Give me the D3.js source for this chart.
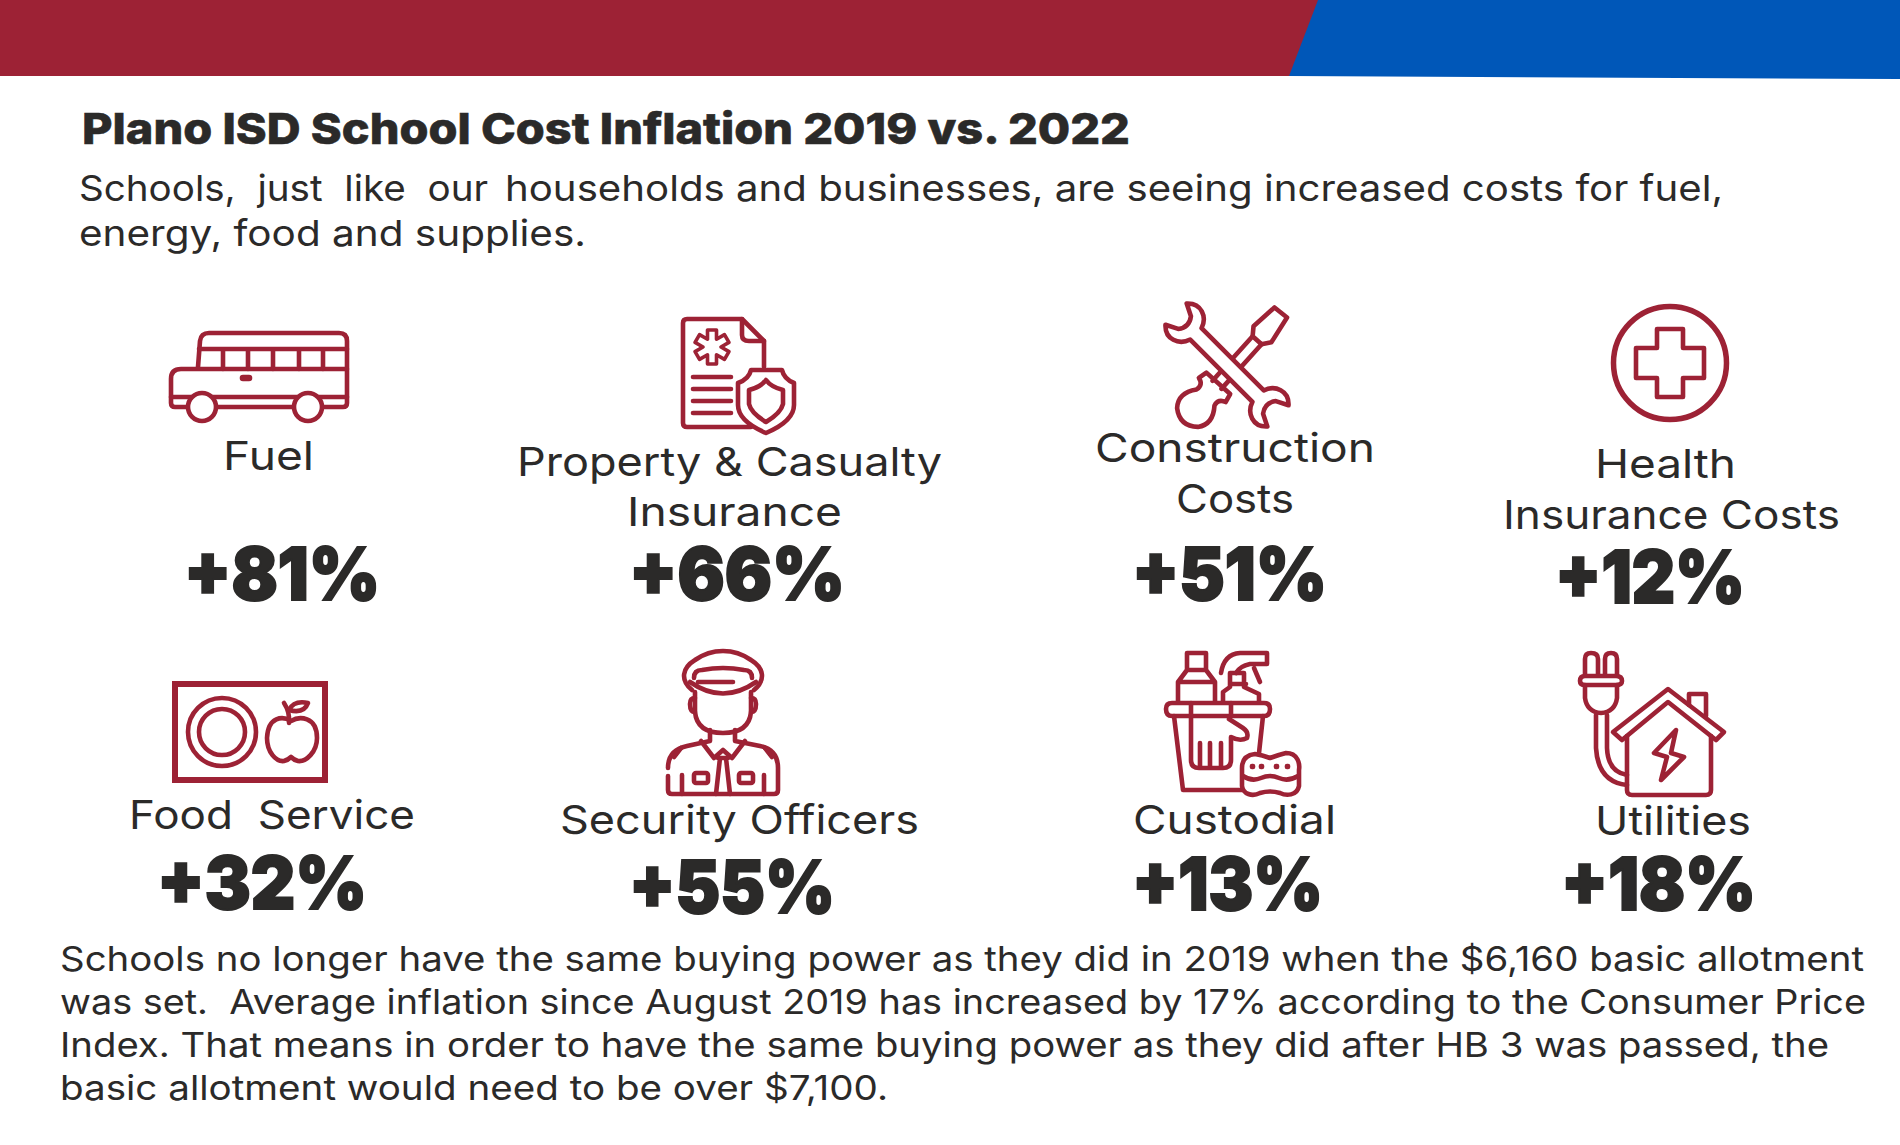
<!DOCTYPE html>
<html>
<head>
<meta charset="utf-8">
<script src="https://cdn.jsdelivr.net/npm/d3@7"></script>
<style>
  html, body { margin: 0; padding: 0; background: #fff; }
  svg { display: block; }
  text { font-family: Inter, "Noto Sans", sans-serif; fill: #2b2a29; white-space: pre; }
  .icon path, .icon circle, .icon ellipse, .icon rect { stroke: #9d2235; stroke-width: 4.6; stroke-linecap: round; stroke-linejoin: round; fill: none; }
  .icon .solid { fill: #fff; }
</style>
</head>
<body>
<svg id="chart" width="1900" height="1145"></svg>
<script>
// chart content
var categories = [
	['Fuel'],
	['Property & Casualty', 'Insurance'],
	['Construction', 'Costs'],
	['Health', 'Insurance Costs'],
	['Food  Service'],
	['Security Officers'],
	['Custodial'],
	['Utilities']
];
var values = [81, 66, 51, 12, 32, 55, 13, 18];
var title = 'Plano ISD School Cost Inflation 2019 vs. 2022';
var subtitle = [
	'Schools,  just  like  our',
	'households and businesses, are seeing increased costs for fuel,',
	'energy, food and supplies.'
];
var footnote = [
	'Schools no longer have the same buying power as they did in 2019 when the $6,160 basic allotment',
	'was set.  Average inflation since August 2019 has increased by 17% according to the Consumer Price',
	'Index. That means in order to have the same buying power as they did after HB 3 was passed, the',
	'basic allotment would need to be over $7,100.'
];

// layout, [left, right, baseline] per text line
var labelBoxes = [
	[[223, 314, 470]],
	[[517, 942, 476], [627, 842, 526]],
	[[1095, 1375, 462], [1176, 1294, 513]],
	[[1595, 1736, 478], [1503, 1840, 529]],
	[[129, 415, 829]],
	[[560, 919, 834]],
	[[1133, 1336, 834]],
	[[1595, 1751, 835]]
];
var valueBoxes = [
	[184, 380, 600], [629, 845, 600], [1132, 1327, 600], [1555, 1745, 603],
	[157, 367, 909], [629, 835, 913], [1132, 1323, 910], [1561, 1756, 910]
];
var subtitleBoxes = [[79, 488, 201], [505, 1723, 201], [79, 586, 246]];
var footnoteBoxes = [[60, 1864, 971], [60, 1866, 1014], [60, 1829, 1057], [60, 888, 1100]];

var svg = d3.select('#chart');

// Header band.
svg.append('rect').attr('width', 1900).attr('height', 76).style('fill', '#9d2235');
svg.append('path').attr('d', 'M1318,0 L1900,0 L1900,79 L1289,76 Z').style('fill', '#0057b8');

function fitText(sel, box) {
	sel.attr('x', (d, i) => box(d, i)[0])
	   .attr('y', (d, i) => box(d, i)[2])
	   .attr('textLength', (d, i) => box(d, i)[1] - box(d, i)[0])
	   .attr('lengthAdjust', 'spacingAndGlyphs');
}

svg.append('text').datum([82, 1130, 144])
	.style('font-size', '43px').style('font-weight', 800)
	.style('stroke', '#2b2a29').style('stroke-width', 0.6)
	.call(fitText, d => d)
	.text(title);

svg.selectAll('.subtitle').data(subtitle).enter().append('text')
	.attr('class', 'subtitle')
	.style('font-size', '36px')
	.call(fitText, (d, i) => subtitleBoxes[i])
	.text(d => d);

svg.selectAll('.foot').data(footnote).enter().append('text')
	.attr('class', 'foot')
	.style('font-size', '34px')
	.call(fitText, (d, i) => footnoteBoxes[i])
	.text(d => d);

// Category labels, one text per wrapped line.
var labelLines = d3.merge(categories.map((lines, c) => lines.map((line, l) => ({ line: line, box: labelBoxes[c][l] }))));
svg.selectAll('.label').data(labelLines).enter().append('text')
	.attr('class', 'label')
	.style('font-size', '40px')
	.call(fitText, d => d.box)
	.text(d => d.line);

svg.selectAll('.value').data(values).enter().append('text')
	.attr('class', 'value')
	.style('font-size', '73px').style('font-weight', 900)
	.style('stroke', '#2b2a29').style('stroke-width', 2)
	.call(fitText, (d, i) => valueBoxes[i])
	.text(d => '+' + d + '%');

// Icons, drawn in page pixels.
var g = svg.append('g').attr('class', 'icon');

function addPaths(parent, list, cls) {
	list.forEach(d => parent.append('path').attr('d', d).attr('class', cls || null));
}

// Bus
var bus = g.append('g').attr('transform', 'translate(169,331)');
addPaths(bus, [
	'M29,36 L31,10 Q32,2 40,2 L170,2 Q178,2 178,10 L178,72 Q178,76 174,76 L154,76',
	'M124,76 L48,76 M18,76 L6,76 Q2,76 2,72 L2,48 Q2,38 12,38 L178,38',
	'M30,18 L178,18 M54,18 L54,38 M79,18 L79,38 M104,18 L104,38 M130,18 L130,38 M154,18 L154,38',
	'M2,66 L178,66'
]);
bus.append('rect').attr('x', 73).attr('y', 46).attr('width', 8).attr('height', 2).attr('rx', 1);
bus.append('circle').attr('class', 'solid').attr('cx', 33).attr('cy', 76).attr('r', 14);
bus.append('circle').attr('class', 'solid').attr('cx', 139).attr('cy', 76).attr('r', 14);

// Insurance document
var doc = g.append('g').attr('transform', 'translate(681,317)');
addPaths(doc, [
	'M70,110 L6,110 Q2,110 2,106 L2,6 Q2,2 6,2 L61,2 L83,24 L83,50',
	'M61,2 L61,18 Q61,24 68,24 L83,24',
	'M12,60 L50,60 M12,72 L50,72 M12,84 L50,84 M12,96 L50,96'
]);
var starPoints = d3.merge(d3.range(6).map(i => {
	var a = i * Math.PI / 3, c = Math.cos(a), s = Math.sin(a);
	var n = (i + 0.5) * Math.PI / 3;
	return [
		[c * 17 + s * 4.5, s * 17 - c * 4.5],
		[c * 17 - s * 4.5, s * 17 + c * 4.5],
		[Math.cos(n) * 9, Math.sin(n) * 9]
	];
}));
doc.append('path')
	.attr('transform', 'translate(31,30) rotate(-90)')
	.attr('d', d3.line()(starPoints) + 'Z')
	.style('stroke-width', 3.6);
addPaths(doc, [
	'M70,53 L101,53 Q103,62 113,66 L113,88 Q113,104 85,116 Q57,104 57,88 L57,66 Q68,62 70,53 Z'
], 'solid');
addPaths(doc, ['M85,63 Q90,70 102,73 L102,87 Q100,96 85,105 Q70,96 68,87 L68,73 Q80,70 85,63 Z']);

// Screwdriver and wrench
var tools = g.append('g').attr('transform', 'translate(1167,304)');
var driver = tools.append('g').attr('transform', 'translate(66,63) rotate(42)');
addPaths(driver, [
	'M-9,-72 L7,-73 L12,-44 L6,-36 L-6,-36 L-12,-44 Z',
	'M-6,-36 L-6,24 M6,-36 L6,24',
	'M-16,22 L16,22 L18,31 Q10,33 12,41 Q24,56 14,68 Q0,80 -14,68 Q-24,56 -12,41 Q-10,33 -18,31 Z'
]);
var wrench = tools.append('g').attr('transform', 'translate(60,61) rotate(-45)');
addPaths(wrench, [
	'M-8,-44 C-20,-48 -26,-62 -15,-72 L-9,-60 Q0,-53 9,-60 L15,-72 C26,-62 20,-48 8,-44 L8,44 C20,48 26,62 15,72 L9,60 Q0,53 -9,60 L-15,72 C-26,62 -20,48 -8,44 Z'
], 'solid');

// Health cross
g.append('circle').attr('cx', 1670).attr('cy', 363).attr('r', 56.5).style('stroke-width', 5.5);
addPaths(g, ['M1657,329 L1683,329 L1683,348 L1704,348 L1704,378 L1683,378 L1683,397 L1657,397 L1657,378 L1636,378 L1636,348 L1657,348 Z']);

// Plate and apple
g.append('rect').attr('x', 175).attr('y', 684).attr('width', 150).attr('height', 96)
	.style('stroke-width', 6).style('stroke-linejoin', 'miter');
g.append('circle').attr('cx', 222).attr('cy', 732).attr('r', 34);
g.append('circle').attr('cx', 222).attr('cy', 732).attr('r', 23);
addPaths(g, [
	'M291,721 C283,716 268,716 267,738 C267,752 276,762 284,761 Q288,760 291,757 Q294,760 298,761 C306,762 317,752 317,738 C317,716 299,716 291,721 Z',
	'M284,703 Q290,712 289,723',
	'M289,710 Q294,700 308,703 Q304,714 289,710 Z'
]);

// Officer
addPaths(g, [
	'M692,690 C680,680 682,668 695,660 C712,648 734,648 751,660 C764,668 766,680 754,690',
	'M694,678 Q694,670 702,670 Q723,666 744,670 Q752,670 752,678',
	'M690,682 Q723,705 756,682 M698,682 L733,682',
	'M695,692 L695,712 Q697,733 723,733 Q749,733 751,712 L751,692',
	'M695,698 Q690,698 690,704 Q690,712 695,712 M751,698 Q756,698 756,704 Q756,712 751,712',
	'M710,730 L710,741 L687,746 Q668,750 668,768 M735,730 L735,741 L760,746 Q778,750 778,768 L778,790 Q778,794 774,794 L672,794 Q668,794 668,790 L668,776',
	'M701,741 L714,758 L723,750 L732,758 L745,741',
	'M720,758 L716,794 M726,758 L730,794 M718,758 L728,758',
	'M682,775 L682,794 M764,775 L764,794',
	'M674,757 L681,748 M772,757 L765,748'
]);
g.append('rect').attr('x', 694).attr('y', 773).attr('width', 14).attr('height', 10).attr('rx', 2);
g.append('rect').attr('x', 739).attr('y', 773).attr('width', 14).attr('height', 10).attr('rx', 2);

// Cleaning supplies
addPaths(g, [
	'M1187,670 L1187,653 L1206,653 L1206,670 L1215,682 L1215,702 M1187,670 L1206,670 M1187,670 L1178,682 L1178,702 M1178,682 L1215,682',
	'M1223,702 L1223,692 L1230,687 L1230,673 L1244,673 L1244,687 L1259,694 L1259,702 M1230,684 L1246,684',
	'M1221,673 Q1224,654 1240,653 L1267,653 L1267,664 L1250,664 Q1240,666 1236,673',
	'M1254,668 L1260,682',
	'M1174,716 L1183,790 L1242,790 M1263,716 L1259,753',
	'M1191,716 L1191,760 Q1191,768 1199,768 L1223,768 Q1231,768 1231,760 L1231,737 Q1240,742 1247,738 Q1249,732 1243,728 L1229,719',
	'M1200,743 L1200,766 M1210,743 L1210,766 M1221,743 L1221,766',
	'M1172,703 L1264,703 Q1270,703 1270,709 Q1270,716 1264,716 L1172,716 Q1166,716 1166,709 Q1166,703 1172,703 Z',
	'M1191,703 L1191,716 M1231,703 L1231,716'
]);
addPaths(g, [
	'M1255,754 Q1262,755 1270,758 Q1278,755 1286,753 C1298,753 1300,764 1299,770 Q1299,778 1299,786 C1297,796 1286,796 1280,793 Q1270,790 1260,793 C1252,797 1243,794 1242,786 L1242,768 C1242,760 1246,755 1255,754 Z',
	'M1243,776 Q1252,782 1261,778 Q1270,774 1279,778 Q1288,782 1298,776'
], 'solid');
d3.range(4).forEach(i => {
	g.append('rect').attr('x', [1252, 1261, 1276, 1287][i]).attr('y', 766).attr('width', 1).attr('height', 1);
});

// Plug and house
addPaths(g, [
	'M1585,675 L1585,659 Q1585,653 1591,653 Q1598,653 1598,659 L1598,675 M1605,675 L1605,659 Q1605,653 1611,653 Q1617,653 1617,659 L1617,675',
	'M1585,676 L1616,676 Q1622,676 1622,681 Q1622,685 1616,685 L1585,685 Q1580,685 1580,681 Q1580,676 1585,676 Z',
	'M1585,685 L1585,698 Q1587,712 1601,713 Q1615,712 1617,698 L1617,685',
	'M1596,715 L1596,748 Q1598,782 1627,785 M1607,715 L1607,748 Q1608,772 1627,775',
	'M1668,689 L1724,732 L1716,740 L1668,702 L1622,740 L1613,732 Z',
	'M1627,736 L1627,790 Q1627,795 1632,795 L1706,795 Q1711,795 1711,790 L1711,736',
	'M1689,705 L1689,694 L1706,694 L1706,716',
	'M1676,730 L1654,753 L1667,757 L1661,780 L1684,757 L1671,753 Z'
]);
</script>
</body>
</html>
